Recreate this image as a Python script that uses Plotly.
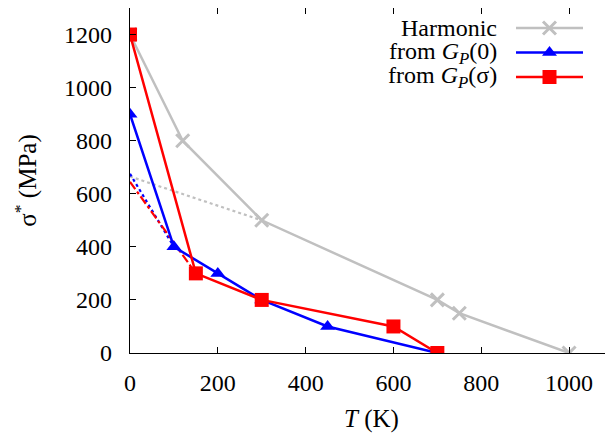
import plotly.graph_objects as go

# Data
harm_T = [0, 120, 300, 700, 750, 1000]
harm_s = [1200, 800, 500, 200, 150, 0]
harm_ext_T = [0, 300]
harm_ext_s = [665, 500]

gp0_T = [0, 100, 200, 300, 450, 700]
gp0_s = [900, 400, 300, 200, 100, 0]
gp0_ext_T = [0, 100]
gp0_ext_s = [675, 400]

gps_T = [0, 150, 300, 600, 700]
gps_s = [1200, 300, 200, 100, 0]
gps_ext_T = [0, 150]
gps_ext_s = [645, 300]

x_ticks = [0, 200, 400, 600, 800, 1000]
y_ticks = [0, 200, 400, 600, 800, 1000, 1200]
legend_names = ["Harmonic", "from <i>G<sub>P</sub></i>(0)", "from <i>G<sub>P</sub></i>(σ)"]

GRAY = "#c0c0c0"
BLUE = "#0000ff"
RED = "#ff0000"
FONT = "Liberation Serif"

fig = go.Figure()

# extrapolation lines
fig.add_trace(go.Scatter(x=harm_ext_T, y=harm_ext_s, mode="lines",
                         line=dict(color=GRAY, width=2.2, dash="dot"), showlegend=False))
fig.add_trace(go.Scatter(x=gp0_ext_T, y=gp0_ext_s, mode="lines",
                         line=dict(color=BLUE, width=2.2, dash="dot"), showlegend=False))
fig.add_trace(go.Scatter(x=gps_ext_T, y=gps_ext_s, mode="lines",
                         line=dict(color=RED, width=2.2, dash="dashdot"), showlegend=False))

styles = [
    (harm_T, harm_s, GRAY, dict(symbol="x-thin", size=13, line=dict(color=GRAY, width=3), color=GRAY)),
    (gp0_T, gp0_s, BLUE, dict(symbol="triangle-up", size=13, color=BLUE)),
    (gps_T, gps_s, RED, dict(symbol="square", size=14, color=RED)),
]
for (xs, ys, c, mk) in styles:
    fig.add_trace(go.Scatter(x=xs, y=ys, mode="lines+markers",
                             line=dict(color=c, width=2.5), marker=mk, showlegend=False))

# manual legend on an overlay pixel axis
leg_y = [28, 52.5, 77]
for (xs, ys, c, mk), name, ly in zip(styles, legend_names, leg_y):
    fig.add_trace(go.Scatter(x=[516, 583], y=[ly, ly], mode="lines",
                             line=dict(color=c, width=2.5), xaxis="x2", yaxis="y2",
                             showlegend=False, hoverinfo="skip"))
    fig.add_trace(go.Scatter(x=[549.5], y=[ly], mode="markers", marker=mk,
                             xaxis="x2", yaxis="y2", showlegend=False, hoverinfo="skip"))
    fig.add_annotation(x=499, y=ly, xref="x2", yref="y2", text=name, showarrow=False,
                       xanchor="right", yanchor="middle",
                       font=dict(family=FONT, size=24, color="black"))

fig.add_annotation(x=-0.215, y=0.5, xref="paper", yref="paper",
                   text="σ<sup>*</sup> (MPa)", textangle=-90, showarrow=False,
                   xanchor="center", yanchor="middle",
                   font=dict(family=FONT, size=25, color="black"))

fig.update_layout(
    template="none",
    width=613, height=433,
    margin=dict(l=122, r=8, t=0, b=88, autoexpand=False),
    plot_bgcolor="white", paper_bgcolor="white",
    font=dict(family=FONT, size=24, color="black"),
    xaxis=dict(range=[0, 1100], tickvals=x_ticks,
               ticks="inside", ticklen=6, tickcolor="black", showline=True,
               linecolor="black", linewidth=1.2, mirror="ticks", showgrid=False,
               zeroline=False, ticklabelstandoff=8, automargin=False,
               tickfont=dict(family=FONT, size=24, color="black"),
               title=dict(text="<i>T</i> (K)", font=dict(size=25, family=FONT, color="black"),
                          standoff=14)),
    yaxis=dict(range=[0, 1300], tickvals=y_ticks,
               ticks="inside", ticklen=6, tickcolor="black", showline=True,
               linecolor="black", linewidth=1.2, mirror="ticks", showgrid=False,
               zeroline=False, ticklabelstandoff=12, automargin=False,
               tickfont=dict(family=FONT, size=24, color="black")),
    xaxis2=dict(domain=[0, 1], range=[130, 613], overlaying="x", visible=False,
                fixedrange=True),
    yaxis2=dict(domain=[0, 1], range=[353, 8], overlaying="y", visible=False,
                fixedrange=True, anchor="x2"),
)

fig.write_html("out.html")
